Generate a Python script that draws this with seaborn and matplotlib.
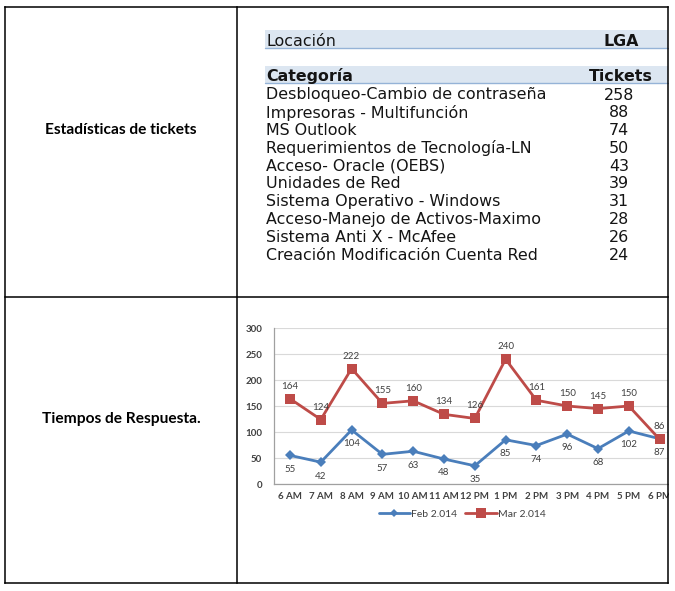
import matplotlib
matplotlib.use("Agg")
import matplotlib.pyplot as plt
import seaborn as sns
import pandas as pd
import numpy as np
from matplotlib.lines import Line2D
from matplotlib.patches import Rectangle

# ---------------- data ----------------
location_label = "Locación"
location_value = "LGA"
category_header = "Categoría"
tickets_header = "Tickets"
categories = [
    "Desbloqueo-Cambio de contraseña",
    "Impresoras - Multifunción",
    "MS Outlook",
    "Requerimientos de Tecnología-LN",
    "Acceso- Oracle (OEBS)",
    "Unidades de Red",
    "Sistema Operativo - Windows",
    "Acceso-Manejo de Activos-Maximo",
    "Sistema Anti X - McAfee",
    "Creación Modificación Cuenta Red",
]
tickets = [258, 88, 74, 50, 43, 39, 31, 28, 26, 24]

row_labels = ["Estadísticas de tickets", "Tiempos de Respuesta."]

hours = ["6 AM", "7 AM", "8 AM", "9 AM", "10 AM", "11 AM", "12 PM",
         "1 PM", "2 PM", "3 PM", "4 PM", "5 PM", "6 PM"]
feb = [55, 42, 104, 57, 63, 48, 35, 85, 74, 96, 68, 102, 87]
mar = [164, 124, 222, 155, 160, 134, 126, 240, 161, 150, 145, 150, 86]
series_names = ["Feb 2.014", "Mar 2.014"]
series_colors = ["#4A7EBB", "#BE4B48"]
y_ticks = [0, 50, 100, 150, 200, 250, 300]

# ---------------- setup ----------------
sns.set_style("white")
plt.rcParams["font.family"] = ["DejaVu Sans"]

W, H = 675, 591
fig = plt.figure(figsize=(W / 100, H / 100), dpi=100)
fig.patch.set_facecolor("white")


def fx(px):
    return px / W


def fy(py):
    return 1 - py / H


TXT = "#141414"

# ---------------- stats table (top right) ----------------
band_fc = "#DCE6F1"
band_ec = "#95B3D7"
for top, bot in [(30, 48), (65.5, 83)]:
    fig.add_artist(Rectangle((fx(265), fy(bot)), fx(668) - fx(265), (bot - top) / H,
                             transform=fig.transFigure, facecolor=band_fc,
                             edgecolor="none", zorder=1))
    fig.add_artist(Line2D([fx(265), fx(668)], [fy(bot), fy(bot)],
                          transform=fig.transFigure, color=band_ec, lw=1.0, zorder=2))

tfs = 11.4
fig.text(fx(266), fy(41.5), location_label, fontsize=tfs, color=TXT, va="center", ha="left", zorder=3)
fig.text(fx(621), fy(41.5), location_value, fontsize=tfs, color=TXT, fontweight="bold",
         va="center", ha="center", zorder=3)
fig.text(fx(266), fy(76.5), category_header, fontsize=tfs, color=TXT, fontweight="bold",
         va="center", ha="left", zorder=3)
fig.text(fx(621), fy(76.5), tickets_header, fontsize=tfs, color=TXT, fontweight="bold",
         va="center", ha="center", zorder=3)
for i, (c, t) in enumerate(zip(categories, tickets)):
    yy = 95 + 17.8 * i
    fig.text(fx(266), fy(yy), c, fontsize=tfs, color=TXT, va="center", ha="left", zorder=3)
    fig.text(fx(619), fy(yy), str(t), fontsize=tfs, color=TXT, va="center", ha="center", zorder=3)

# ---------------- left labels ----------------
fig.text(fx(121), fy(129.5), row_labels[0], fontsize=11.2, fontweight="bold",
         family=["Lato", "DejaVu Sans"], color="black", ha="center", va="center")
fig.text(fx(121), fy(419), row_labels[1], fontsize=11.2, fontweight="bold",
         family=["Lato", "DejaVu Sans"], color="black", ha="center", va="center")

# ---------------- line chart ----------------
x0_px, step_px = 290, 30.8
ax_left, ax_right, ax_top, ax_bot = 274, 668, 328, 484
ax = fig.add_axes([fx(ax_left), fy(ax_bot), fx(ax_right) - fx(ax_left), (ax_bot - ax_top) / H])
ax.set_facecolor("none")

idx = np.arange(len(hours))
df_feb = pd.DataFrame({"x": idx, "v": feb})
df_mar = pd.DataFrame({"x": idx, "v": mar})
sns.lineplot(data=df_feb, x="x", y="v", ax=ax, color=series_colors[0], lw=2.0,
             marker="D", markersize=5.5, markeredgewidth=0, legend=False, zorder=3)
sns.lineplot(data=df_mar, x="x", y="v", ax=ax, color=series_colors[1], lw=2.0,
             marker="s", markersize=7, markeredgewidth=0, legend=False, zorder=3)

cfont = ["Lato", "DejaVu Sans"]
for i, v in enumerate(feb):
    ax.annotate(str(v), (i, v), xytext=(0, -10), textcoords="offset points",
                ha="center", va="center", fontsize=7, color="#404040", family=cfont)
for i, v in enumerate(mar):
    ax.annotate(str(v), (i, v), xytext=(0, 9), textcoords="offset points",
                ha="center", va="center", fontsize=7, color="#404040", family=cfont)

ax.set_xlim((ax_left - x0_px) / step_px, (ax_right - x0_px) / step_px)
ax.set_ylim(0, 300)
ax.set_yticks(y_ticks)
ax.set_xticks(idx)
ax.set_xticklabels(hours)
ax.set_xticks(idx[:-1] + 0.5, minor=True)
ax.set_xlabel("")
ax.set_ylabel("")
ax.grid(axis="y", color="#D9D9D9", lw=0.8)
ax.grid(axis="x", visible=False)
for s in ["top", "right"]:
    ax.spines[s].set_visible(False)
for s in ["left", "bottom"]:
    ax.spines[s].set_color("#A0A0A0")
    ax.spines[s].set_linewidth(0.9)
ax.tick_params(axis="x", which="major", length=0, pad=6, labelsize=7, labelcolor="#404040")
ax.tick_params(axis="x", which="minor", length=3.5, width=0.8, color="#A0A0A0", direction="out")
ax.tick_params(axis="y", which="major", length=3.5, width=0.8, color="#A0A0A0", direction="out",
               pad=5, labelsize=7, labelcolor="#404040")
for lab in ax.get_xticklabels() + ax.get_yticklabels():
    lab.set_family(cfont)
    lab.set_fontweight("bold")

handles = [Line2D([], [], color=series_colors[0], lw=2.0, marker="D", markersize=4.5, markeredgewidth=0),
           Line2D([], [], color=series_colors[1], lw=2.0, marker="s", markersize=6.5, markeredgewidth=0)]
fig.legend(handles, series_names, loc="center", bbox_to_anchor=(fx(462), fy(514)), ncol=2,
           frameon=False, handlelength=3.0, handletextpad=0.1, columnspacing=0.8,
           prop={"family": cfont, "size": 7.5}, labelcolor="#404040")

# ---------------- clip right side, table borders ----------------
fig.add_artist(Rectangle((fx(668.5), 0), 1 - fx(668.5), 1, transform=fig.transFigure,
                         facecolor="white", edgecolor="none", zorder=20))
bl = dict(transform=fig.transFigure, color="black", lw=1.1, zorder=21, solid_capstyle="projecting")
for xp in [5.5, 236.5, 668]:
    fig.add_artist(Line2D([fx(xp), fx(xp)], [fy(6.5), fy(582.5)], **bl))
for yp in [6.5, 296.5, 582.5]:
    fig.add_artist(Line2D([fx(5.5), fx(668)], [fy(yp), fy(yp)], **bl))

fig.savefig("out.png", dpi=100, facecolor="white")
